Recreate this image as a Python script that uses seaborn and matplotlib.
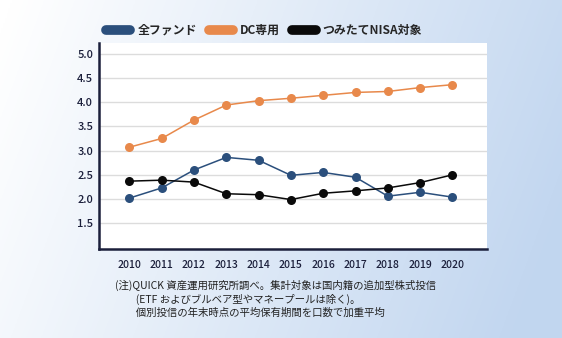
import numpy as np
import pandas as pd
import matplotlib
matplotlib.use("Agg")
import matplotlib.pyplot as plt
from matplotlib.lines import Line2D
import seaborn as sns

years = [2010, 2011, 2012, 2013, 2014, 2015, 2016, 2017, 2018, 2019, 2020]
all_funds = [2.02, 2.23, 2.60, 2.86, 2.80, 2.49, 2.55, 2.45, 2.06, 2.14, 2.04]
dc_only = [3.07, 3.25, 3.63, 3.94, 4.03, 4.08, 4.14, 4.20, 4.22, 4.30, 4.36]
tsumitate = [2.37, 2.39, 2.35, 2.11, 2.09, 1.99, 2.12, 2.17, 2.23, 2.34, 2.50]
series_names = ["全ファンド", "DC専用", "つみたてNISA対象"]
y_ticks = [1.5, 2.0, 2.5, 3.0, 3.5, 4.0, 4.5, 5.0]
note_lines = [
    "(注)QUICK 資産運用研究所調べ。集計対象は国内籍の追加型株式投信",
    "　　(ETF およびブルベア型やマネープールは除く)。",
    "　　個別投信の年末時点の平均保有期間を口数で加重平均",
]

colors = {"全ファンド": "#2b4f7c", "DC専用": "#e8894b", "つみたてNISA対象": "#0a0a0a"}
navy = "#1b1f3b"

sns.set_theme(style="white")
plt.rcParams["font.family"] = ["Noto Sans CJK JP", "DejaVu Sans"]

df = pd.DataFrame({
    "year": years * 3,
    "value": all_funds + dc_only + tsumitate,
    "series": [series_names[0]] * len(years) + [series_names[1]] * len(years)
              + [series_names[2]] * len(years),
})

fig = plt.figure(figsize=(5.62, 3.38), dpi=100)

# soft background gradient, white on the left, light blue on the right
bg = fig.add_axes([0, 0, 1, 1], zorder=-10)
gx, gy = np.meshgrid(np.linspace(0, 1, 300), np.linspace(0, 1, 200))
t = np.clip(0.9 * gx + 0.2 * gy - 0.02, 0, 1)
c0 = np.array([1.0, 1.0, 1.0])
c1 = np.array([0.76, 0.84, 0.94])
img = c0[None, None, :] * (1 - t[..., None]) + c1[None, None, :] * t[..., None]
bg.imshow(img, aspect="auto", extent=[0, 1, 0, 1], origin="upper")
bg.axis("off")

ax = fig.add_axes([0.1756, 0.2633, 0.6904, 0.6095])
ax.set_facecolor("white")
sns.lineplot(data=df, x="year", y="value", hue="series", palette=colors,
             marker="o", markersize=6.5, markeredgewidth=0, linewidth=1.1,
             ax=ax, legend=False)

ax.set_xlim(2009.05, 2021.06)
ax.set_ylim(0.97, 5.22)
ax.set_xticks(years)
ax.set_yticks(y_ticks)
ax.set_yticklabels([f"{v:.1f}" for v in y_ticks])
ax.set_xlabel("")
ax.set_ylabel("")
ax.grid(axis="y", color="#dcdcdc", linewidth=1)
ax.set_axisbelow(True)

for side in ["top", "right"]:
    ax.spines[side].set_visible(False)
for side in ["left", "bottom"]:
    ax.spines[side].set_color(navy)
    ax.spines[side].set_linewidth(1.8)

ax.tick_params(axis="y", direction="in", length=6, width=1.2, color=navy,
               labelsize=8, labelcolor=navy, pad=4)
ax.tick_params(axis="x", direction="in", length=7, width=1, color="#777777",
               labelsize=7.5, labelcolor=navy, pad=8)
for lab in ax.get_xticklabels() + ax.get_yticklabels():
    lab.set_fontweight("medium")

handles = [Line2D([0], [0], color=colors[n], linewidth=7, solid_capstyle="round")
           for n in series_names]
fig.legend(handles, series_names, loc="center", bbox_to_anchor=(0.47, 0.91),
           ncol=3, frameon=False, handlelength=2.0, handletextpad=0.6,
           columnspacing=1.0, prop={"weight": "bold", "size": 8.6})

for i, line in enumerate(note_lines):
    fig.text(0.2046, 0.155 - i * 0.04, line, fontsize=7.5, color="#222222",
             va="center", ha="left")

fig.savefig("out.png", dpi=100)
